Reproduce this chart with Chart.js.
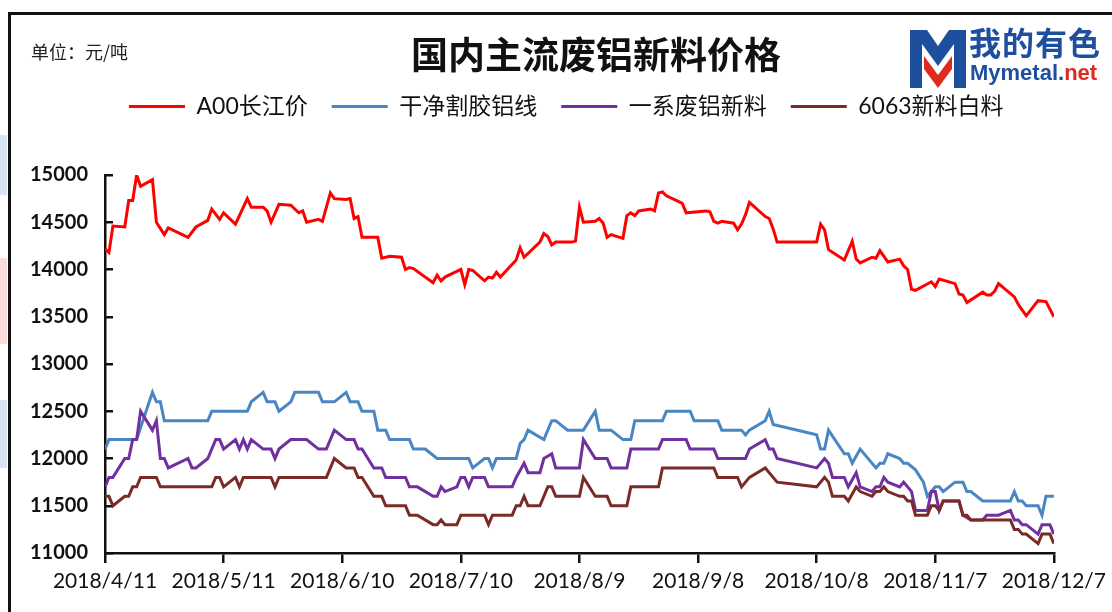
<!DOCTYPE html>
<html lang="zh-CN">
<head>
<meta charset="utf-8">
<title>国内主流废铝新料价格</title>
<script src="https://cdn.jsdelivr.net/npm/chart.js@4.4.1/dist/chart.umd.min.js"></script>
<style>
    html, body {
        margin: 0;
        padding: 0;
        background: #ffffff;
        overflow: hidden;
    }

    #page {
        position: relative;
        width: 1112px;
        height: 612px;
        overflow: hidden;
        font-family: 'Noto Sans CJK SC', sans-serif;
    }

    #chart-box {
        position: absolute;
        left: 0;
        top: 0;
        width: 1112px;
        height: 612px;
    }

    .frame {
        position: absolute;
        left: 8px;
        top: 12px;
        width: 1200px;
        height: 700px;
        border: 3px solid #111111;
        box-sizing: border-box;
        pointer-events: none;
    }

    .unit {
        position: absolute;
        left: 31px;
        top: 38px;
        font-size: 18px;
        color: #222222;
    }

    .title {
        position: absolute;
        left: 596px;
        top: 33px;
        transform: translateX(-50%);
        font-size: 37px;
        line-height: 1.1;
        font-weight: 700;
        color: #111111;
        white-space: nowrap;
    }

    .logo-mark {
        position: absolute;
        left: 910px;
        top: 30px;
    }

    .logo-cn {
        position: absolute;
        left: 969px;
        top: 24px;
        font-size: 32px;
        line-height: 1.1;
        font-weight: 700;
        color: #1d4f9e;
        letter-spacing: 1px;
    }

    .logo-en {
        position: absolute;
        left: 970px;
        top: 60px;
        font-family: 'Liberation Sans', Arial, sans-serif;
        font-weight: 700;
        font-size: 22px;
        color: #1d4f9e;
    }

    .logo-en span {
        color: #e02a20;
    }

    .edge {
        position: absolute;
        left: 0;
        width: 7px;
    }
</style>
</head>
<body>
<div id="page">
    <div id="chart-box"><canvas id="wasteAlChart"></canvas></div>

    <div class="edge" style="top:135px;height:60px;background:#d8e3f4;"></div>
    <div class="edge" style="top:258px;height:86px;background:#fadcdc;"></div>
    <div class="edge" style="top:400px;height:68px;background:#d8e3f4;"></div>

    <div class="frame"></div>
    <div class="unit">单位：元/吨</div>
    <div class="title">国内主流废铝新料价格</div>

    <svg class="logo-mark" width="56" height="58" viewBox="0 0 56 58">
        <polygon points="0,0 17,0 28,16 39,0 56,0 56,58 44,58 44,14 28,36 12,14 12,58 0,58" fill="#1d4f9e"/>
        <polygon points="14,26 28,45 42,26 42,39 28,58 14,39" fill="#e02a20"/>
    </svg>
    <div class="logo-cn">我的有色</div>
    <div class="logo-en">Mymetal.<span>net</span></div>
</div>

<script>
// x values are days counted from 2018/4/11
const dateLabels = ['2018/4/11', '2018/5/11', '2018/6/10', '2018/7/10', '2018/8/9', '2018/9/8', '2018/10/8', '2018/11/7', '2018/12/7'];
const seriesNames = ['A00长江价', '干净割胶铝线', '一系废铝新料', '6063新料白料'];

const a00Days = [0, 1, 2, 5, 6, 7, 8, 9, 12, 13, 15, 16, 21, 23, 26, 27, 29, 30, 33, 36, 37, 40, 41, 42, 44, 47, 49, 50, 51, 54, 55, 57, 58, 61, 62, 63, 64, 65, 69, 70, 72, 75, 76, 77, 78, 83, 84, 85, 86, 90, 91, 92, 93, 96, 97, 98, 99, 100, 104, 105, 106, 110, 111, 112, 113, 114, 118, 119, 120, 121, 124, 125, 126, 127, 128, 131, 132, 133, 134, 135, 138, 139, 140, 141, 142, 145, 146, 147, 152, 153, 154, 155, 156, 159, 160, 161, 162, 163, 167, 168, 169, 170, 180, 181, 182, 183, 187, 189, 190, 191, 194, 195, 196, 198, 201, 202, 203, 204, 205, 209, 210, 211, 215, 216, 217, 218, 222, 223, 224, 225, 226, 230, 231, 233, 236, 238, 240];
const a00Prices = [14220, 14180, 14460, 14450, 14730, 14730, 15000, 14880, 14950, 14500, 14370, 14440, 14340, 14450, 14520, 14640, 14530, 14600, 14480, 14750, 14660, 14660, 14620, 14500, 14690, 14680, 14600, 14620, 14500, 14530, 14510, 14810, 14750, 14740, 14750, 14540, 14560, 14340, 14340, 14120, 14140, 14130, 14000, 14020, 14010, 13860, 13940, 13880, 13920, 14000, 13840, 14000, 13990, 13880, 13920, 13910, 13970, 13920, 14100, 14230, 14130, 14290, 14380, 14350, 14260, 14290, 14290, 14300, 14660, 14500, 14510, 14540, 14490, 14340, 14370, 14330, 14570, 14600, 14570, 14620, 14640, 14620, 14810, 14820, 14780, 14720, 14700, 14600, 14620, 14610, 14510, 14490, 14510, 14490, 14420, 14480, 14580, 14710, 14560, 14540, 14430, 14290, 14290, 14480, 14420, 14210, 14100, 14300, 14110, 14070, 14130, 14120, 14200, 14080, 14110, 14040, 14000, 13790, 13780, 13870, 13820, 13900, 13850, 13740, 13730, 13650, 13760, 13730, 13730, 13770, 13850, 13710, 13630, 13510, 13670, 13660, 13500];

const wireDays = [0, 1, 8, 12, 13, 14, 15, 26, 27, 36, 37, 40, 41, 43, 44, 47, 48, 54, 55, 58, 61, 62, 64, 65, 68, 69, 71, 72, 77, 78, 81, 84, 92, 93, 96, 97, 98, 99, 104, 105, 106, 107, 111, 113, 114, 117, 121, 124, 125, 128, 131, 133, 134, 141, 142, 148, 149, 155, 156, 161, 162, 163, 167, 168, 169, 180, 181, 182, 183, 187, 188, 189, 191, 195, 196, 197, 198, 201, 202, 203, 205, 207, 208, 210, 211, 212, 215, 217, 218, 219, 222, 229, 230, 231, 232, 233, 236, 237, 238, 240];
const wirePrices = [12100, 12200, 12200, 12700, 12600, 12600, 12400, 12400, 12500, 12500, 12600, 12700, 12600, 12600, 12500, 12600, 12700, 12700, 12600, 12600, 12700, 12600, 12600, 12500, 12500, 12300, 12300, 12200, 12200, 12100, 12100, 12000, 12000, 11900, 12000, 12000, 11900, 12000, 12000, 12160, 12200, 12300, 12200, 12400, 12400, 12300, 12300, 12500, 12300, 12300, 12200, 12200, 12400, 12400, 12500, 12500, 12400, 12400, 12300, 12300, 12250, 12300, 12400, 12500, 12360, 12250, 12100, 12100, 12300, 12050, 12050, 11950, 12100, 11900, 11950, 11950, 12050, 12000, 11950, 11950, 11880, 11750, 11600, 11700, 11700, 11650, 11750, 11750, 11650, 11650, 11550, 11550, 11650, 11550, 11550, 11500, 11500, 11400, 11600, 11600];

const seriesOneDays = [0, 1, 2, 5, 6, 7, 8, 9, 12, 13, 14, 15, 16, 21, 22, 23, 26, 28, 29, 30, 33, 34, 35, 36, 37, 40, 42, 43, 44, 47, 51, 54, 56, 58, 61, 63, 64, 65, 68, 70, 71, 76, 77, 79, 83, 84, 85, 86, 89, 90, 91, 92, 93, 96, 97, 103, 104, 106, 107, 110, 111, 113, 114, 120, 121, 124, 127, 128, 132, 133, 140, 141, 147, 148, 154, 155, 162, 163, 167, 168, 169, 170, 180, 182, 183, 184, 187, 188, 190, 191, 194, 195, 196, 197, 198, 201, 202, 204, 205, 208, 209, 210, 211, 212, 216, 217, 219, 222, 223, 226, 229, 230, 231, 232, 233, 236, 237, 239, 240];
const seriesOnePrices = [11700, 11800, 11800, 12000, 12000, 12200, 12200, 12500, 12300, 12400, 12000, 12000, 11900, 12000, 11900, 11900, 12000, 12200, 12200, 12100, 12200, 12100, 12200, 12100, 12200, 12100, 12100, 12000, 12100, 12200, 12200, 12100, 12100, 12300, 12200, 12200, 12100, 12100, 11900, 11900, 11800, 11800, 11700, 11700, 11600, 11600, 11700, 11650, 11700, 11800, 11800, 11700, 11800, 11800, 11700, 11700, 11800, 11950, 11850, 11850, 12000, 12050, 11900, 11900, 12200, 12000, 12000, 11900, 11900, 12100, 12100, 12200, 12200, 12100, 12100, 12000, 12000, 12100, 12200, 12100, 12100, 12000, 11900, 12000, 11950, 11800, 11800, 11700, 11850, 11700, 11650, 11700, 11700, 11800, 11750, 11700, 11750, 11650, 11450, 11450, 11650, 11650, 11450, 11550, 11550, 11400, 11350, 11350, 11400, 11400, 11450, 11350, 11350, 11300, 11300, 11200, 11300, 11300, 11200];

const profileDays = [0, 1, 2, 5, 6, 7, 8, 9, 13, 14, 27, 28, 29, 30, 33, 34, 35, 42, 43, 44, 56, 58, 61, 63, 64, 65, 68, 70, 71, 76, 77, 79, 83, 84, 85, 86, 89, 90, 96, 97, 98, 103, 104, 105, 106, 107, 110, 112, 113, 114, 120, 121, 124, 127, 128, 132, 133, 140, 141, 154, 155, 160, 161, 163, 167, 170, 180, 182, 183, 184, 187, 188, 190, 191, 194, 195, 196, 197, 198, 201, 202, 203, 204, 205, 208, 209, 210, 211, 212, 216, 217, 218, 219, 229, 230, 231, 232, 233, 236, 237, 239, 240];
const profilePrices = [11600, 11600, 11500, 11600, 11600, 11700, 11700, 11800, 11800, 11700, 11700, 11800, 11800, 11700, 11800, 11700, 11800, 11800, 11700, 11800, 11800, 12000, 11900, 11900, 11800, 11800, 11600, 11600, 11500, 11500, 11400, 11400, 11300, 11300, 11350, 11300, 11300, 11400, 11400, 11300, 11400, 11400, 11500, 11500, 11600, 11500, 11500, 11700, 11700, 11600, 11600, 11800, 11600, 11600, 11500, 11500, 11700, 11700, 11900, 11900, 11800, 11800, 11700, 11800, 11900, 11750, 11700, 11800, 11750, 11600, 11600, 11550, 11700, 11650, 11600, 11650, 11650, 11700, 11650, 11600, 11600, 11550, 11550, 11400, 11400, 11500, 11500, 11450, 11550, 11550, 11400, 11400, 11350, 11350, 11250, 11250, 11200, 11200, 11100, 11200, 11200, 11100];

const seriesColors = ['#ff0000', '#4a86c4', '#7030a0', '#7b2b27'];

function toPoints(days, prices) {
    return days.map((d, i) => ({ x: d, y: prices[i] }));
}

// legend sits high, leave a gap between it and the plot
const legendGap = {
    id: 'legendGap',
    beforeInit(chart) {
        if (!chart.legend) {
            return;
        }
        const fit = chart.legend.fit;
        chart.legend.fit = function () {
            fit.bind(chart.legend)();
            this.height += 47;
        };
    },
};

function makeDataset(i, days, prices) {
    return {
        label: seriesNames[i],
        data: toPoints(days, prices),
        borderColor: seriesColors[i],
        backgroundColor: seriesColors[i],
        borderWidth: 3,
        pointRadius: 0,
        tension: 0,
        // later series on top, like the original
        order: 3 - i,
    };
}

function initChart() {
    const canvas = document.getElementById('wasteAlChart');

    new Chart(canvas, {
        type: 'line',
        data: {
            datasets: [
                makeDataset(0, a00Days, a00Prices),
                makeDataset(1, wireDays, wirePrices),
                makeDataset(2, seriesOneDays, seriesOnePrices),
                makeDataset(3, profileDays, profilePrices),
            ],
        },
        options: {
            responsive: true,
            maintainAspectRatio: false,
            animation: false,
            layout: {
                padding: { top: 71, left: 20, right: 54, bottom: 0 },
            },
            plugins: {
                legend: {
                    position: 'top',
                    fullSize: false,
                    align: 'start',
                    labels: {
                        usePointStyle: true,
                        pointStyle: 'line',
                        pointStyleWidth: 56,
                        boxWidth: 56,
                        padding: 24,
                        color: '#111111',
                        font: { family: "Lato, 'Noto Sans CJK SC', sans-serif", size: 23 },
                        sort: (a, b) => a.datasetIndex - b.datasetIndex,
                    },
                },
                tooltip: { enabled: false },
            },
            scales: {
                x: {
                    type: 'linear',
                    min: 0,
                    max: 240,
                    afterFit: (scale) => { scale.height = 59; },
                    ticks: {
                        stepSize: 30,
                        autoSkip: false,
                        maxRotation: 0,
                        padding: 6,
                        color: '#111111',
                        font: { family: 'Lato, sans-serif', size: 21 },
                        callback: (value) => dateLabels[value / 30],
                    },
                    grid: {
                        drawOnChartArea: false,
                        drawTicks: true,
                        tickLength: 10,
                        color: '#111111',
                        lineWidth: 2.5,
                    },
                    border: { color: '#111111', width: 2.5 },
                },
                y: {
                    min: 11000,
                    max: 15000,
                    afterFit: (scale) => { scale.width = 85; },
                    ticks: {
                        stepSize: 500,
                        padding: 25,
                        color: '#111111',
                        font: { family: 'Lato, sans-serif', size: 20, weight: 'bold' },
                        callback: (value) => String(value),
                    },
                    grid: {
                        drawOnChartArea: false,
                        drawTicks: true,
                        tickLength: -8,
                        color: '#111111',
                        lineWidth: 2.5,
                    },
                    border: { color: '#111111', width: 2.5 },
                },
            },
        },
        plugins: [legendGap],
    });
}

document.addEventListener('DOMContentLoaded', initChart);
</script>
</body>
</html>
